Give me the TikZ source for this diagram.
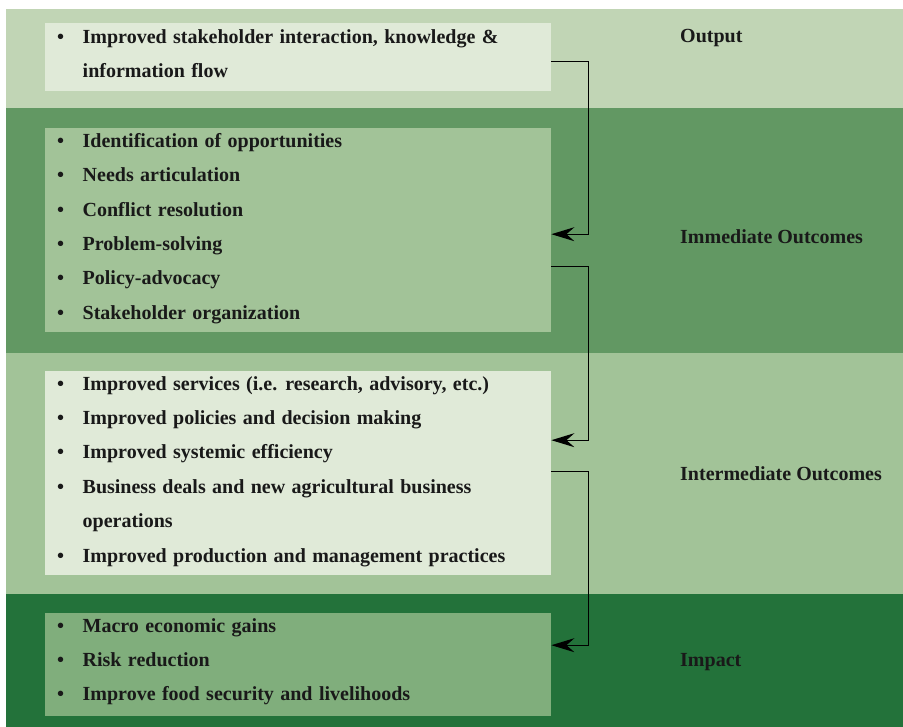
\documentclass[tikz,border=0pt]{standalone}
\usepackage{fontspec}
\setmainfont{Liberation Serif}
\usetikzlibrary{positioning,arrows.meta}
\definecolor{bandA}{HTML}{C1D5B5}
\definecolor{bandB}{HTML}{629863}
\definecolor{bandC}{HTML}{A2C398}
\definecolor{bandD}{HTML}{23723A}
\definecolor{boxA}{HTML}{E0EAD8}
\definecolor{boxB}{HTML}{A2C398}
\definecolor{boxD}{HTML}{80AE7C}
\newcommand{\wordgap}{\spaceskip=0.32em\relax}
\tikzset{band/.style={rectangle,inner sep=0pt,minimum width=897pt,anchor=north west},
	list box/.style={rectangle,inner sep=0pt,minimum width=506pt},
	list text/.style={inner sep=0pt,align=left,text=black!90,font=\fontsize{20}{34.4}\selectfont\bfseries\wordgap},
	stage/.style={inner sep=0pt,anchor=base west,text=black!90,font=\fontsize{20}{24}\selectfont\bfseries},
	flow/.style={draw=black,line width=1.1pt,-{Stealth[length=23pt,width=14pt,inset=8pt]}},
}
\newcommand{\itm}[1]{\makebox[25.5pt][l]{\textbullet}#1}
\newcommand{\cont}[1]{\makebox[25.5pt][l]{}#1}

\begin{document}
\begin{tikzpicture}[x=1pt,y=-1pt]
	\useasboundingbox (0,0) rectangle (903,727);
	\node[band,fill=bandA,minimum height=99pt] (b1) at (6,9) {};
	\node[band,fill=bandB,minimum height=245pt] (b2) at (6,108) {};
	\node[band,fill=bandC,minimum height=241pt] (b3) at (6,353) {};
	\node[band,fill=bandD,minimum height=133pt] (b4) at (6,594) {};
	
	\node[list box,fill=boxA,minimum height=68pt] (out)[below right = 14pt and 39pt of b1.north west]{};
	\node[list box,fill=boxB,minimum height=204pt] (imm)[below right = 20pt and 39pt of b2.north west]{};
	\node[list box,fill=boxA,minimum height=204pt] (mid)[below right = 18pt and 39pt of b3.north west]{};
	\node[list box,fill=boxD,minimum height=103pt] (imp)[below right = 19pt and 39pt of b4.north west]{};
	
	\node[list text] (t1)[below right = 6pt and 12pt of out.north west]{\itm{Improved stakeholder interaction, knowledge \&}\\ \cont{information flow}};
	\node[list text] (t2)[below right = 5pt and 12pt of imm.north west]{\itm{Identification of opportunities}\\ \itm{Needs articulation}\\ \itm{Conflict resolution}\\ \itm{Problem-solving}\\ \itm{Policy-advocacy}\\ \itm{Stakeholder organization}};
	\node[list text] (t3)[below right = 5pt and 12pt of mid.north west]{\itm{Improved services (i.e. research, advisory, etc.)}\\ \itm{Improved policies and decision making}\\ \itm{Improved systemic efficiency}\\ \itm{Business deals and new agricultural business}\\ \cont{operations}\\ \itm{Improved production and management practices}};
	\node[list text] (t4)[below right = 5pt and 12pt of imp.north west]{\itm{Macro economic gains}\\ \itm{Risk reduction}\\ \itm{Improve food security and livelihoods}};
	
	\node[stage] (s1) at (680,43){Output};
	\node[stage] (s2) at (680,243.5){Immediate Outcomes};
	\node[stage] (s3) at (680,480){Intermediate Outcomes};
	\node[stage] (s4) at (680,666.5){Impact};
	
	\draw[flow] ([yshift=-4pt]out.east) -- ++(37,0) |- ([yshift=-4pt]imm.east);
	\draw[flow] ([yshift=-36pt]imm.east) -- ++(37,0) |- ([yshift=33pt]mid.east);
	\draw[flow] ([yshift=2pt]mid.east) -- ++(37,0) |- ([yshift=19.5pt]imp.east);
\end{tikzpicture}
\end{document}
